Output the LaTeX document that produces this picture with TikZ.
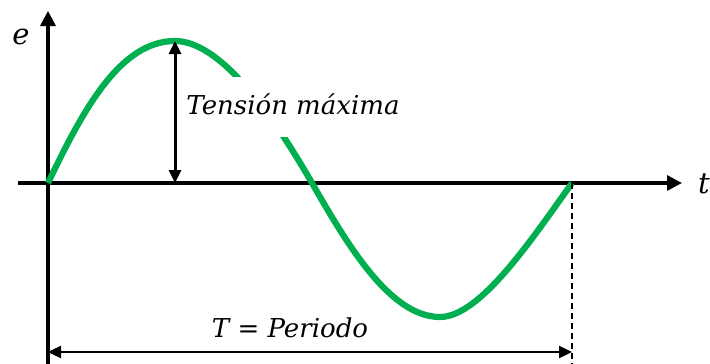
\documentclass[tikz,border=0pt]{standalone}
\usepackage{fontspec}
\setmainfont{DejaVu Serif}
\usepackage{xcolor}
\usetikzlibrary{arrows.meta}
\definecolor{wavegreen}{RGB}{0,176,80}

\begin{document}
\begin{tikzpicture}[x=1pt,y=-1pt,>={Triangle[length=13pt,width=12pt]}]
  \useasboundingbox (0,0) rectangle (710,364);
  \coordinate (o) at (48,183);
  \coordinate (ytop) at (48,11);
  \coordinate (ybot) at (48,364);
  \coordinate (xleft) at (18,183);
  \coordinate (xright) at (682,183);
  \coordinate (peak) at (175,41);
  \coordinate (peakbase) at (175,183);
  \coordinate (zero) at (312,183);
  \coordinate (trough) at (440,317);
  \coordinate (tend) at (572,183);
  \coordinate (tbot) at (572,364);
  \coordinate (pleft) at (48,352);
  \coordinate (pright) at (572,352);
  \draw[-{Triangle[length=15pt,width=15pt]}, line width=3.3pt] (ybot) -- (ytop);
  \draw[-{Triangle[length=15pt,width=15pt]}, line width=3.3pt] (xleft) -- (xright);
  \node[font=\itshape\fontsize{29}{32}\selectfont] (elabel) at (21,37) {e};
  \node[font=\itshape\fontsize{29}{32}\selectfont] (tlabel) at (704,184) {t};
  % sine wave
  \draw[wavegreen, line width=6.2pt] (o) .. controls (83,110) and (120,41) .. (peak)
    .. controls (225,41) and (282,131) .. (zero)
    .. controls (347,244) and (390,317) .. (trough)
    .. controls (480,317) and (532,239) .. (tend);
  \draw[<->, line width=3pt] (peakbase) -- (peak);
  \node[fill=white, font=\itshape\fontsize{26}{30}\selectfont, minimum height=60pt,
    text height=20pt, text depth=6pt, inner xsep=4pt] (vmax) at (293,107) {Tensión máxima};
  \draw[line width=1.8pt, dash pattern=on 6pt off 4pt] (tend) -- (tbot);
  \draw[<->, line width=2.4pt] (pleft) -- (pright);
  \node[font=\itshape\fontsize{26}{30}\selectfont] (period) at (290,328) {T {\upshape=} Periodo};
\end{tikzpicture}
\end{document}
